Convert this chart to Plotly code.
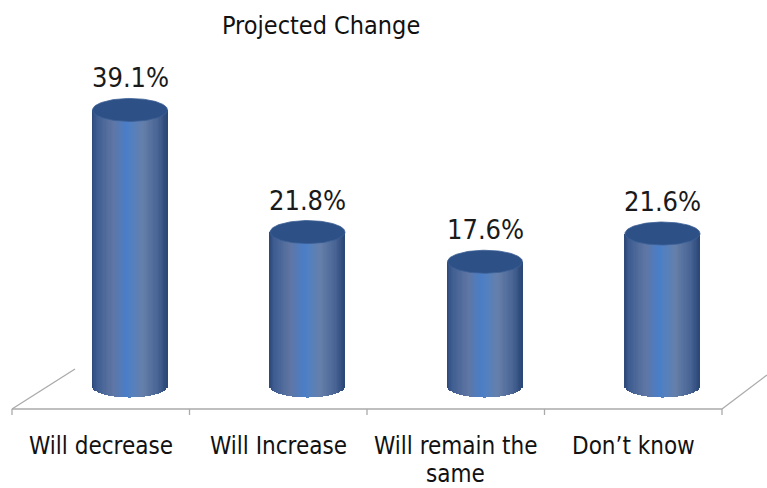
import numpy as np
import plotly.graph_objects as go

# ---- data ----
categories = ["Will decrease", "Will Increase", "Will remain the<br>same", "Don’t know"]
values = [39.1, 21.8, 17.6, 21.6]
value_labels = ["39.1%", "21.8%", "17.6%", "21.6%"]
title_text = "Projected Change"

FONT = "Liberation Sans Narrow, DejaVu Sans Condensed, Arial Narrow, sans-serif"

# ---- canvas / scale setup (pixel geometry of the 3D-style frame) ----
W, H = 767, 488
PX_PER_CAT = 177.5          # horizontal pixels per category slot
X0_PX = 130                 # pixel x of first cylinder axis
Y0_PX = 386                 # pixel y of the value 0 (cylinder base centre)
PX_PER_UNIT = 7.06          # vertical pixels per percentage point

x_range = [(0 - X0_PX) / PX_PER_CAT, (W - X0_PX) / PX_PER_CAT]
y_range = [-(H - Y0_PX) / PX_PER_UNIT, Y0_PX / PX_PER_UNIT]

def px_x(p):
    return (p - X0_PX) / PX_PER_CAT

def px_y(p):
    return (Y0_PX - p) / PX_PER_UNIT

rx = 37.5 / PX_PER_CAT      # cylinder radius (x units)
ry = 11.5 / PX_PER_UNIT     # ellipse half-height (y units)

# horizontal shading across the cylinder body
grad_stops = [
    (0.00, (44, 72, 120)),
    (0.06, (62, 92, 145)),
    (0.28, (95, 118, 163)),
    (0.46, (74, 126, 200)),
    (0.54, (84, 128, 190)),
    (0.68, (102, 127, 170)),
    (0.88, (72, 100, 148)),
    (1.00, (42, 70, 118)),
]

def grad_color(t):
    for (t0, c0), (t1, c1) in zip(grad_stops[:-1], grad_stops[1:]):
        if t0 <= t <= t1:
            f = (t - t0) / (t1 - t0) if t1 > t0 else 0
            c = [round(a + (b - a) * f) for a, b in zip(c0, c1)]
            return f"rgb({c[0]},{c[1]},{c[2]})"
    return "rgb(42,70,118)"

fig = go.Figure()

# cylinder bodies: thin vertical strips, base following the lower ellipse
n_strips = 60
strip_w = 2 * rx / n_strips
xs_idx = np.arange(len(values))
for k in range(n_strips):
    t = (k + 0.5) / n_strips
    u = 2 * t - 1
    base = -ry * np.sqrt(max(0.0, 1 - u * u))
    fig.add_trace(go.Bar(
        x=xs_idx + (-rx + (k + 0.5) * strip_w),
        y=[v - base for v in values],
        base=base,
        width=strip_w * 1.08,
        marker=dict(color=grad_color(t), line=dict(width=0)),
        hoverinfo="skip",
        showlegend=False,
    ))

# top caps
theta = np.linspace(0, 2 * np.pi, 120)
for i, v in enumerate(values):
    fig.add_trace(go.Scatter(
        x=i + rx * np.cos(theta),
        y=v + ry * np.sin(theta),
        mode="lines",
        fill="toself",
        fillcolor="rgb(45,80,134)",
        line=dict(color="rgb(60,95,150)", width=0.8),
        hoverinfo="skip",
        showlegend=False,
    ))

# value labels above the caps
for i, (v, lab) in enumerate(zip(values, value_labels)):
    fig.add_annotation(
        x=i, y=v, yshift=32, text=lab, showarrow=False,
        font=dict(size=27, color="#1a1a1a", family=FONT),
        xanchor="center", yanchor="middle",
    )

# floor frame: front edge, side edges and category ticks
floor_l, floor_r = px_x(12), px_x(722)
floor_y = px_y(409)
line_style = dict(color="rgb(170,170,170)", width=1.3)
fig.add_shape(type="line", x0=floor_l, x1=floor_r, y0=floor_y, y1=floor_y, line=line_style)
fig.add_shape(type="line", x0=floor_l, x1=px_x(75), y0=floor_y, y1=px_y(369), line=line_style)
fig.add_shape(type="line", x0=floor_r, x1=px_x(767), y0=floor_y, y1=px_y(375), line=line_style)
n_cat = len(categories)
step = (floor_r - floor_l) / n_cat
for k in range(n_cat + 1):
    xt = floor_l + k * step
    fig.add_shape(type="line", x0=xt, x1=xt, y0=floor_y, y1=px_y(415), line=line_style)

# category labels under the floor (one compact box per line for tight leading)
for k, cat in enumerate(categories):
    for j, line in enumerate(cat.split("<br>")):
        fig.add_annotation(
            x=floor_l + (k + 0.5) * step, y=px_y(446 + 28 * j), text=line, showarrow=False,
            font=dict(size=24, color="#111111", family=FONT),
            height=26, borderpad=0,
            xanchor="center", yanchor="middle", align="center", valign="middle",
        )

# chart title
fig.add_annotation(
    x=px_x(321), y=px_y(25), text=title_text, showarrow=False,
    font=dict(size=25, color="#111111", family=FONT),
    xanchor="center", yanchor="middle",
)

fig.update_layout(
    width=W, height=H,
    margin=dict(l=0, r=0, t=0, b=0),
    paper_bgcolor="white", plot_bgcolor="white",
    barmode="overlay", bargap=0,
    xaxis=dict(range=x_range, visible=False, fixedrange=True),
    yaxis=dict(range=y_range, visible=False, fixedrange=True),
    showlegend=False,
)

fig.write_html("out.html")
